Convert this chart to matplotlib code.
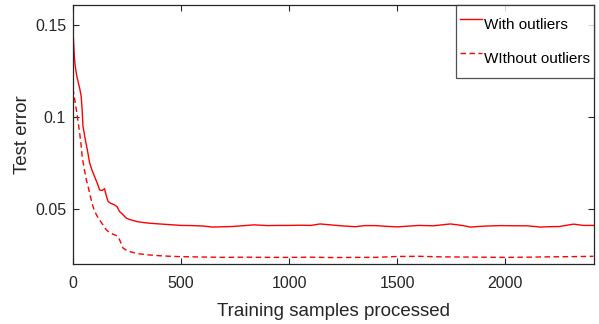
import matplotlib.pyplot as plt

plt.rcParams['font.family'] = ['Liberation Sans', 'DejaVu Sans']

# With outliers
x_with = [0, 3, 6, 10, 15, 20, 26, 32, 38, 42, 46, 52, 58, 65, 77, 88, 100, 112,
          123, 135, 146, 152, 162, 175, 192, 205, 215, 230, 246, 260, 277, 300,
          330, 354, 400, 450, 500, 550, 600, 646, 700, 738, 780, 838, 900, 950,
          1000, 1050, 1100, 1143, 1200, 1250, 1306, 1350, 1400, 1450, 1500, 1550,
          1600, 1667, 1745, 1800, 1838, 1900, 1977, 2050, 2100, 2162, 2200, 2250,
          2315, 2360, 2407]
y_with = [0.147, 0.140, 0.133, 0.128, 0.124, 0.121, 0.118, 0.115, 0.111, 0.104,
          0.095, 0.091, 0.087, 0.083, 0.075, 0.071, 0.0675, 0.064, 0.0603, 0.060,
          0.061, 0.058, 0.054, 0.053, 0.0522, 0.051, 0.0486, 0.047, 0.045, 0.0443,
          0.0437, 0.0430, 0.0425, 0.0422, 0.0418, 0.0414, 0.0410, 0.0409, 0.0407,
          0.0401, 0.0403, 0.0404, 0.0408, 0.0413, 0.0409, 0.0410, 0.0410, 0.0411,
          0.0410, 0.0418, 0.0412, 0.0407, 0.0403, 0.0409, 0.0409, 0.0405, 0.0402,
          0.0406, 0.0410, 0.0408, 0.0418, 0.0410, 0.0401, 0.0406, 0.0409, 0.0408,
          0.0408, 0.0401, 0.0403, 0.0404, 0.0417, 0.0410, 0.0410]

# Without outliers
x_without = [0, 3, 6, 10, 14, 18, 24, 31, 37, 43, 50, 62, 70, 77, 88, 100, 112,
             123, 140, 154, 170, 192, 200, 208, 220, 231, 250, 277, 300, 354, 400,
             450, 500, 600, 700, 800, 900, 1000, 1100, 1200, 1300, 1400, 1500, 1600,
             1700, 1800, 1900, 2000, 2100, 2200, 2300, 2407]
y_without = [0.1155, 0.113, 0.111, 0.108, 0.105, 0.102, 0.097, 0.091, 0.085, 0.078,
             0.073, 0.0657, 0.062, 0.0585, 0.053, 0.0486, 0.046, 0.044, 0.041,
             0.0386, 0.037, 0.0359, 0.0355, 0.035, 0.032, 0.0287, 0.0272, 0.0263,
             0.0256, 0.0249, 0.0245, 0.0242, 0.0240, 0.0238, 0.0236, 0.0237, 0.0236,
             0.0236, 0.0237, 0.0235, 0.0236, 0.0236, 0.0241, 0.0242, 0.0239, 0.0238,
             0.0237, 0.0236, 0.0237, 0.0239, 0.0240, 0.0242]

x_ticks = [0, 500, 1000, 1500, 2000]
y_ticks = [0.05, 0.1, 0.15]
y_tick_labels = ['0.05', '0.1', '0.15']

fig = plt.figure(figsize=(5.99, 3.24), dpi=100)
ax = fig.add_axes([0.1219, 0.1852, 0.8698, 0.7994])

ax.plot(x_with, y_with, color='#ff0000', lw=1.0, label='With outliers')
ax.plot(x_without, y_without, color='#ff0000', lw=1.0, linestyle=(0, (4, 2.5)),
        label='WIthout outliers')

ax.set_xlim(0, 2410)
ax.set_ylim(0.02, 0.161)
ax.set_xticks(x_ticks)
ax.set_yticks(y_ticks)
ax.set_yticklabels(y_tick_labels)
ax.tick_params(direction='in', top=True, right=True, length=4, width=0.8,
               color='#262626', labelcolor='#262626', labelsize=11.5)
ax.tick_params(axis='x', pad=9)
ax.tick_params(axis='y', pad=5)
for s in ax.spines.values():
    s.set_color('#262626')
    s.set_linewidth(0.9)

ax.set_xlabel('Training samples processed', fontsize=13.5, color='#262626', labelpad=8)
ax.set_ylabel('Test error', fontsize=13.5, color='#262626', labelpad=3)

# tall rows + thin padding, like the MATLAB legend
leg = ax.legend(loc='upper right', fontsize=11, frameon=True, fancybox=False,
                borderaxespad=0, handlelength=1.45, handleheight=2.7,
                handletextpad=0.15, labelspacing=0.25, borderpad=0.25)
leg.get_frame().set_edgecolor('#262626')
leg.get_frame().set_linewidth(0.9)
for t in leg.get_texts():
    t.set_color('#000000')

plt.savefig('out.png', dpi=100)
